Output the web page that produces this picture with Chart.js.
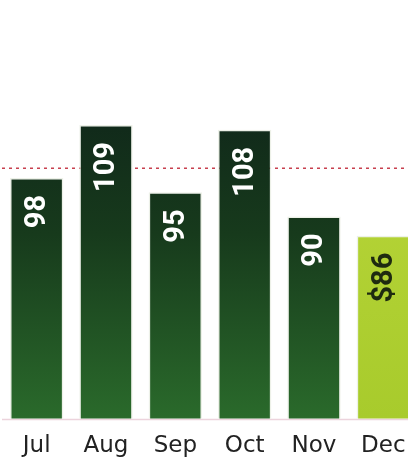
<!DOCTYPE html>
<html><head><meta charset="utf-8">
<script src="https://cdn.jsdelivr.net/npm/chart.js@4"></script>
<style>
html,body{margin:0;padding:0;background:#fff;overflow:hidden;width:408px;height:461px;}
#wrap{position:absolute;left:0;top:0;width:418px;height:468px;}
</style></head><body>
<div id="wrap"><canvas id="c"></canvas></div>
<script>
const months = ["Jul","Aug","Sep","Oct","Nov","Dec"];
const values = [98,109,95,108,90,86];
const valueLabels = ["98","109","95","108","90","$86"];
const targetValue = 100;

const refLine = {
  id:'refLine',
  beforeDatasetsDraw(chart){
    const {ctx, chartArea, scales:{y}} = chart;
    const py = y.getPixelForValue(targetValue);
    ctx.save();
    ctx.strokeStyle='#c8404f';
    ctx.lineWidth=1.5;
    ctx.setLineDash([3,4]);
    ctx.beginPath(); ctx.moveTo(chartArea.left,py); ctx.lineTo(chartArea.right,py); ctx.stroke();
    ctx.setLineDash([]);
    ctx.strokeStyle='#ecd3dc';
    ctx.lineWidth=1.5;
    const by = y.getPixelForValue(y.min)+1;
    ctx.beginPath(); ctx.moveTo(chartArea.left,by); ctx.lineTo(chartArea.right,by); ctx.stroke();
    ctx.restore();
  }
};
const barLabels = {
  id:'barLabels',
  afterDatasetsDraw(chart){
    const {ctx} = chart;
    const meta = chart.getDatasetMeta(0);
    ctx.save();
    ctx.font = 'bold 29px Roboto, sans-serif';
    ctx.textAlign='right';
    ctx.textBaseline='middle';
    meta.data.forEach((bar,i)=>{
      ctx.save();
      ctx.translate(bar.x, bar.y+17);
      ctx.rotate(-Math.PI/2);
      ctx.fillStyle = i===5 ? '#1e2a10' : '#ffffff';
      ctx.fillText(valueLabels[i],0,1);
      ctx.restore();
    });
    ctx.restore();
  }
};

function barColor(c){
  const ch = c.chart; const a = ch.chartArea;
  if(!a) return '#1f4a1f';
  const g = ch.ctx.createLinearGradient(0,a.top+110,0,a.bottom);
  if(c.dataIndex===5){
    g.addColorStop(0,'#b9d63a'); g.addColorStop(1,'#a8cb2c');
  } else {
    g.addColorStop(0,'#10281a'); g.addColorStop(0.4,'#173a1c'); g.addColorStop(1,'#2a6a2b');
  }
  return g;
}

new Chart(document.getElementById('c'),{
  type:'bar',
  data:{labels:months,datasets:[{data:values,backgroundColor:barColor,borderColor:'rgba(235,240,230,0.9)',borderWidth:1.5,borderSkipped:'bottom',categoryPercentage:0.77,barPercentage:1}]},
  options:{
    responsive:true,maintainAspectRatio:false,animation:false,
    layout:{padding:{left:2,right:0,top:0,bottom:2}},
    plugins:{legend:{display:false},tooltip:{enabled:false}},
    scales:{
      x:{grid:{display:false},border:{display:false},ticks:{color:'#222',font:{size:23,family:'"DejaVu Sans", sans-serif'},padding:6}},
      y:{display:false,min:48,max:135}
    }
  },
  plugins:[refLine,barLabels]
});
</script>
</body></html>
